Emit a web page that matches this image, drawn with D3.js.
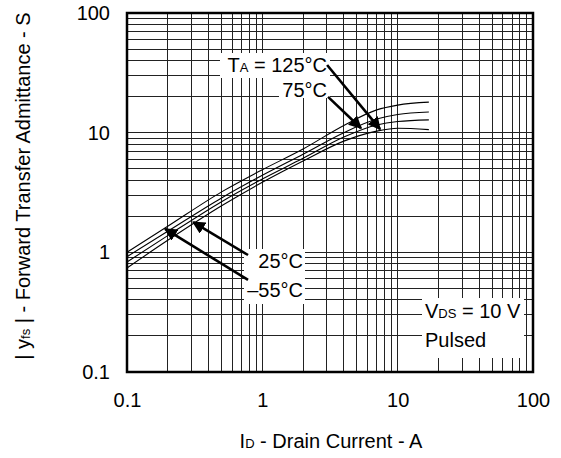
<!DOCTYPE html>
<html>
<head>
<meta charset="utf-8">
<script src="https://cdn.jsdelivr.net/npm/d3@7"></script>
<style>
  body { margin: 0; background: #fff; }
  text { font-family: "Liberation Sans", Arial, sans-serif; fill: #000; }
</style>
</head>
<body>
<script>
// drain current (A) sample points shared by all curves
var currentA = [0.1, 0.2, 0.5, 1, 2, 4, 7, 10, 17];
// forward transfer admittance (S) per ambient temperature
var yfsM55 = [1.0, 1.65, 3.2, 4.9, 7.3, 11.5, 15.5, 17.0, 18.0];
var yfs25 = [0.92, 1.5, 2.85, 4.4, 6.6, 10.0, 13.0, 14.2, 14.9];
var yfs75 = [0.83, 1.38, 2.65, 4.1, 6.1, 9.2, 11.6, 12.4, 12.8];
var yfs125 = [0.74, 1.26, 2.45, 3.85, 5.8, 8.5, 10.3, 10.9, 10.6];
var tickVals = [0.1, 1, 10, 100];
var tickLabels = ["0.1", "1", "10", "100"];

window.onload = drawChart;

function drawChart(){
    var width = 561, height = 458;
    var left = 127, right = 533, top = 13, bottom = 372;
    var fs = 20, sub = 13;

    var svg = d3.select("body").append("svg")
        .attr("width", width)
        .attr("height", height);

    svg.append("rect").attr("width", width).attr("height", height).attr("fill", "#fff");

    var x = d3.scaleLog().domain([0.1, 100]).range([left, right]);
    var y = d3.scaleLog().domain([0.1, 100]).range([bottom, top]);

    //log grid, 1..9 per decade
    var gridVals = [];
    [0.1, 1, 10].forEach(function(d){
        for (var k = 1; k <= 9; k++) gridVals.push(+(k * d).toFixed(2));
    });
    gridVals = gridVals.filter(function(v){ return v > 0.1; });

    var grid = svg.append("g").attr("stroke", "#222").attr("stroke-width", 1)
        .attr("shape-rendering", "crispEdges");
    grid.selectAll(".vg").data(gridVals).enter().append("line")
        .attr("x1", function(d){ return x(d); }).attr("x2", function(d){ return x(d); })
        .attr("y1", top).attr("y2", bottom);
    grid.selectAll(".hg").data(gridVals).enter().append("line")
        .attr("y1", function(d){ return y(d); }).attr("y2", function(d){ return y(d); })
        .attr("x1", left).attr("x2", right);

    //white label boxes over the grid
    var boxes = [[220, 53, 110, 25], [279, 78, 51, 20], [244, 249, 61, 55], [422, 298, 102, 60]];
    svg.selectAll(".box").data(boxes).enter().append("rect")
        .attr("x", function(d){ return d[0]; }).attr("y", function(d){ return d[1]; })
        .attr("width", function(d){ return d[2]; }).attr("height", function(d){ return d[3]; })
        .attr("fill", "#fff");

    //curves
    var series = [yfsM55, yfs25, yfs75, yfs125];
    var line = d3.line()
        .x(function(d){ return x(d[0]); })
        .y(function(d){ return y(d[1]); })
        .curve(d3.curveMonotoneX);
    svg.selectAll(".curve").data(series).enter().append("path")
        .attr("d", function(s){ return line(currentA.map(function(c, i){ return [c, s[i]]; })); })
        .attr("fill", "none").attr("stroke", "#000").attr("stroke-width", 1.1);

    //frame
    svg.append("rect").attr("x", left).attr("y", top)
        .attr("width", right - left).attr("height", bottom - top)
        .attr("fill", "none").attr("stroke", "#000").attr("stroke-width", 2.5);

    //axes (labels only)
    var xAxis = d3.axisBottom(x).tickValues(tickVals)
        .tickFormat(function(d, i){ return tickLabels[i]; }).tickSize(0).tickPadding(21);
    var gx = svg.append("g").attr("transform", "translate(0," + bottom + ")").call(xAxis);
    var yAxis = d3.axisLeft(y).tickValues(tickVals)
        .tickFormat(function(d, i){ return tickLabels[i]; }).tickSize(0).tickPadding(17);
    var gy = svg.append("g").attr("transform", "translate(" + left + ",0)").call(yAxis);
    [gx, gy].forEach(function(g){
        g.select(".domain").remove();
        g.selectAll("text").attr("font-size", fs).attr("font-family", "Liberation Sans, Arial, sans-serif");
    });

    //arrows
    var defs = svg.append("defs");
    defs.append("marker").attr("id", "ah").attr("viewBox", "0 0 10 10")
        .attr("refX", 9).attr("refY", 5).attr("markerWidth", 5).attr("markerHeight", 5)
        .attr("orient", "auto").attr("markerUnits", "strokeWidth")
        .append("path").attr("d", "M0,0L10,5L0,10z").attr("fill", "#000");
    var arrows = [[3.01, 36.8, 7.41, 10.7], [3.06, 19.9, 5.36, 10.9],
                  [0.784, 0.95, 0.308, 1.79], [0.784, 0.588, 0.191, 1.57]];
    svg.selectAll(".arrow").data(arrows).enter().append("line")
        .attr("x1", function(d){ return x(d[0]); }).attr("y1", function(d){ return y(d[1]); })
        .attr("x2", function(d){ return x(d[2]); }).attr("y2", function(d){ return y(d[3]); })
        .attr("stroke", "#000").attr("stroke-width", 2.6).attr("marker-end", "url(#ah)");

    //annotations
    var t1 = svg.append("text").attr("x", 327).attr("y", 72).attr("text-anchor", "end").attr("font-size", fs);
    t1.append("tspan").text("T");
    t1.append("tspan").attr("font-size", sub).text("A");
    t1.append("tspan").text(" = 125°C");
    svg.append("text").attr("x", 327).attr("y", 97).attr("text-anchor", "end").attr("font-size", fs).text("75°C");
    svg.append("text").attr("x", 303).attr("y", 268).attr("text-anchor", "end").attr("font-size", fs).text("25°C");
    svg.append("text").attr("x", 303).attr("y", 297).attr("text-anchor", "end").attr("font-size", fs).text("–55°C");
    var t2 = svg.append("text").attr("x", 425).attr("y", 318).attr("font-size", fs);
    t2.append("tspan").text("V");
    t2.append("tspan").attr("font-size", sub).text("DS");
    t2.append("tspan").text(" = 10 V");
    svg.append("text").attr("x", 425).attr("y", 347).attr("font-size", fs).text("Pulsed");

    //axis titles
    var xt = svg.append("text").attr("x", 331).attr("y", 448).attr("text-anchor", "middle").attr("font-size", fs);
    xt.append("tspan").text("I");
    xt.append("tspan").attr("font-size", sub).text("D");
    xt.append("tspan").text(" - Drain Current - A");
    var yt = svg.append("text").attr("transform", "translate(30,186) rotate(-90)")
        .attr("text-anchor", "middle").attr("font-size", fs);
    yt.append("tspan").text("| y");
    yt.append("tspan").attr("font-size", sub).text("fs");
    yt.append("tspan").text(" | - Forward Transfer Admittance - S");
}
</script>
</body>
</html>
